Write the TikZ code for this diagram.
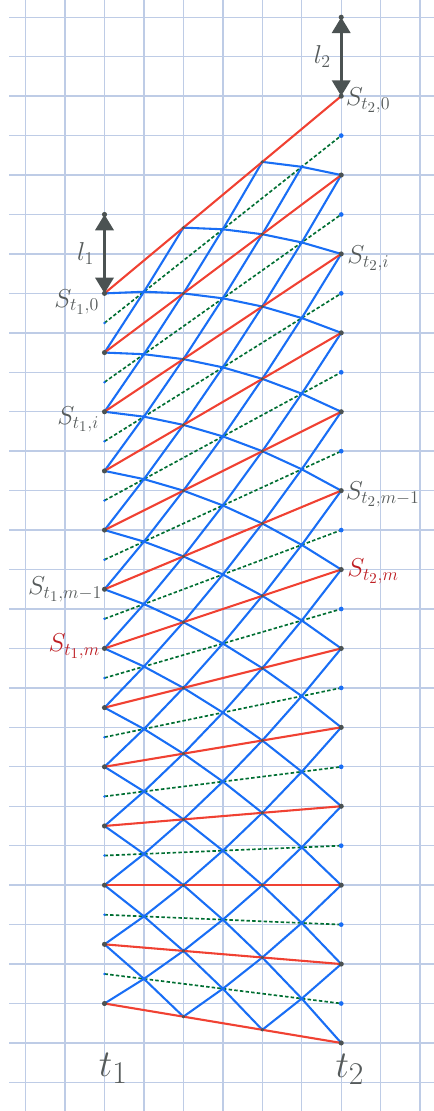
\documentclass[tikz,border=0pt]{standalone}
\usepackage{amsmath}
\usetikzlibrary{arrows.meta,positioning}

\definecolor{gridblue}{RGB}{190,204,230}
\definecolor{meshblue}{RGB}{25,110,245}
\definecolor{slicered}{RGB}{240,65,50}
\definecolor{midgreen}{RGB}{0,110,50}
\definecolor{ptgray}{RGB}{75,82,82}
\definecolor{lblgray}{RGB}{85,90,90}
\definecolor{lblred}{RGB}{190,30,35}

\begin{document}
\begin{tikzpicture}[
    gridline/.style={draw=gridblue, line width=1pt},
    slice/.style={draw=slicered, line width=1.5pt},
    midline/.style={draw=midgreen, line width=1.2pt, dash pattern=on 2.5pt off 1.6pt},
    mesh/.style={draw=meshblue, line width=1.5pt},
    lbl/.style={font=\LARGE, text=lblgray, inner sep=0pt, scale=1.08},
    redlbl/.style={lbl, text=lblred},
    tlbl/.style={font=\Huge, text=lblgray, inner sep=0pt, scale=1.1},
    len/.style={{Triangle[width=0.46cm,length=0.4cm]}-{Triangle[width=0.46cm,length=0.4cm]}, draw=ptgray, line width=2.2pt}
]
    \useasboundingbox (-2.649,-20.725) rectangle (8.352,7.437);

    % Grid
    \foreach \y in {-20,...,7} \draw[gridline] (-2.42,\y) -- (8.352,\y);
    \foreach \x in {-2,...,8} \draw[gridline] (\x,-20.725) -- (\x,7.437);

    % Mesh points: s runs from t_1 to t_2, j = 2k runs down the slices
    \foreach \s in {0,...,6} {
        \foreach \j in {0,...,24}
            \coordinate (p-\s-\j) at (\s,{-0.75*\j+\s*(5-0.25*\j)/6});
    }

    % Half-step lines
    \foreach \j in {1,3,...,23} \draw[midline] (p-0-\j) -- (p-6-\j);

    % Blue mesh
    \foreach \s [evaluate=\s as \sn using int(\s+1)] in {0,...,5} {
        \foreach \j [evaluate=\j as \jup using int(\j+1), evaluate=\j as \jdn using int(\j-1)] in {0,...,24} {
            \ifodd\numexpr\s+\j\relax\else
                \ifnum\j<24 \draw[mesh] (p-\s-\j) -- (p-\sn-\jup);\fi
                \ifnum\j>0 \ifnum\numexpr\j-\s\relax>-3 \draw[mesh] (p-\s-\j) -- (p-\sn-\jdn);\fi\fi
            \fi
        }
    }

    % Slices
    \foreach \j in {0,2,...,24} \draw[slice] (p-0-\j) -- (p-6-\j);

    % Points
    \foreach \j in {0,2,...,24} {
        \fill[ptgray] (p-0-\j) circle (0.065);
        \fill[ptgray] (p-6-\j) circle (0.065);
        \fill[ptgray] (p-2-\j) circle (0.045);
        \fill[ptgray] (p-4-\j) circle (0.045);
    }
    \foreach \j in {1,3,...,23} {
        \fill[meshblue] (p-0-\j) circle (0.035);
        \fill[meshblue] (p-6-\j) circle (0.06);
        \foreach \s in {1,3,5} \fill[meshblue] (p-\s-\j) circle (0.045);
    }

    % Lengths l_1, l_2
    \coordinate (l1-top) at (0,2);
    \coordinate (l2-top) at (6,7);
    \draw[len] (l1-top) -- (p-0-0) node[midway, left=0.22cm, lbl] (lab-l1) {$l_1$};
    \draw[len] (l2-top) -- (p-6-0) node[midway, left=0.22cm, lbl] (lab-l2) {$l_2$};
    \fill[ptgray] (l1-top) circle (0.065);
    \fill[ptgray] (l2-top) circle (0.065);

    % Labels
    \node[lbl, anchor=east, xshift=-0.12cm, yshift=-0.2cm] (st1-0) at (p-0-0) {$S_{t_1,0}$};
    \node[lbl, anchor=east, xshift=-0.12cm, yshift=-0.18cm] (st1-i) at (p-0-4) {$S_{t_1,i}$};
    \node[lbl, anchor=east, xshift=-0.05cm] (st1-m1) at (p-0-10) {$S_{t_1,m-1}$};
    \node[redlbl, anchor=east, xshift=-0.1cm, yshift=0.05cm] (st1-m) at (p-0-12) {$S_{t_1,m}$};
    \node[lbl, anchor=west, xshift=0.1cm, yshift=-0.1cm] (st2-0) at (p-6-0) {$S_{t_2,0}$};
    \node[lbl, anchor=west, xshift=0.14cm, yshift=-0.1cm] (st2-i) at (p-6-4) {$S_{t_2,i}$};
    \node[lbl, anchor=west, xshift=0.1cm, yshift=-0.08cm] (st2-m1) at (p-6-10) {$S_{t_2,m-1}$};
    \node[redlbl, anchor=west, xshift=0.14cm, yshift=-0.04cm] (st2-m) at (p-6-12) {$S_{t_2,m}$};
    \node[tlbl] (t1) at (0.22,-19.65) {$t_1$};
    \node[tlbl] (t2) at (6.22,-19.66) {$t_2$};

\end{tikzpicture}
\end{document}
